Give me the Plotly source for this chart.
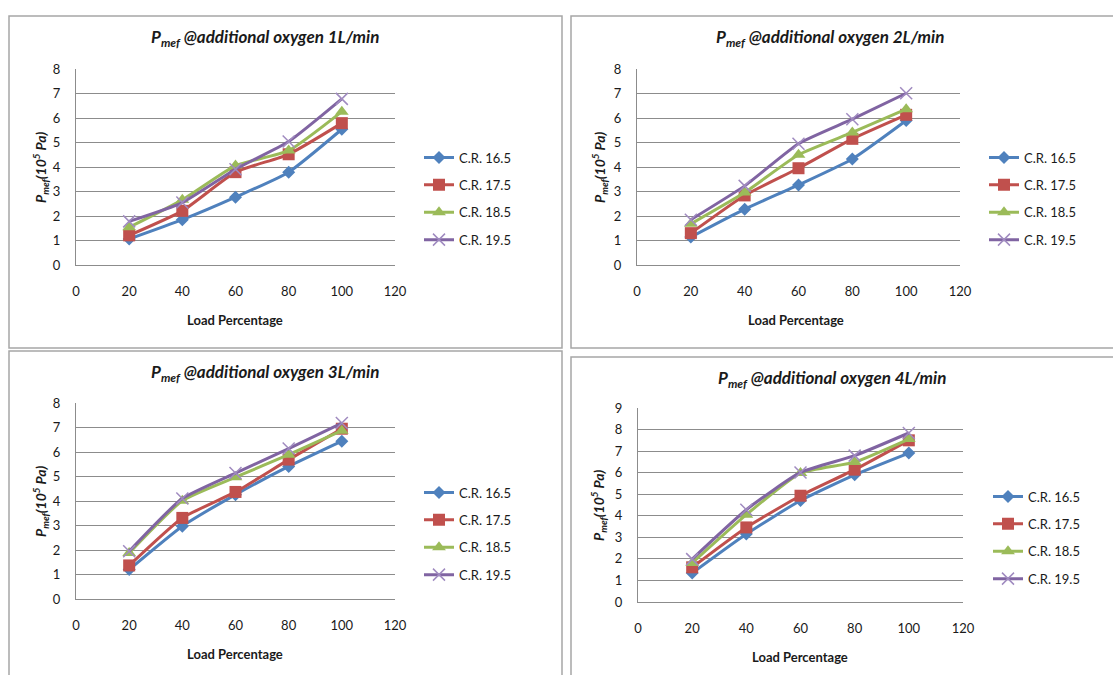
import plotly.graph_objects as go

W, H = 1113, 675

load_pct = [20, 40, 60, 80, 100]
series_names = ["C.R. 16.5", "C.R. 17.5", "C.R. 18.5", "C.R. 19.5"]
x_ticks = [0, 20, 40, 60, 80, 100, 120]

# Pmef values (10^5 Pa) for each oxygen flow panel
o1_cr165 = [1.06, 1.85, 2.77, 3.79, 5.54]
o1_cr175 = [1.21, 2.21, 3.79, 4.52, 5.79]
o1_cr185 = [1.54, 2.66, 4.06, 4.67, 6.26]
o1_cr195 = [1.78, 2.55, 3.91, 5.04, 6.78]

o2_cr165 = [1.14, 2.28, 3.27, 4.33, 5.90]
o2_cr175 = [1.30, 2.84, 3.95, 5.15, 6.13]
o2_cr185 = [1.68, 2.96, 4.50, 5.41, 6.36]
o2_cr195 = [1.85, 3.23, 4.95, 5.95, 7.01]

o3_cr165 = [1.20, 2.97, 4.26, 5.41, 6.44]
o3_cr175 = [1.37, 3.31, 4.37, 5.69, 6.95]
o3_cr185 = [1.88, 4.01, 4.97, 5.89, 6.87]
o3_cr195 = [1.95, 4.10, 5.14, 6.14, 7.18]

o4_cr165 = [1.34, 3.15, 4.71, 5.90, 6.91]
o4_cr175 = [1.61, 3.46, 4.93, 6.14, 7.50]
o4_cr185 = [1.81, 4.05, 5.98, 6.49, 7.56]
o4_cr195 = [1.99, 4.28, 6.01, 6.79, 7.84]

panel_titles = ["1L/min", "2L/min", "3L/min", "4L/min"]
panel_data = [
    [o1_cr165, o1_cr175, o1_cr185, o1_cr195],
    [o2_cr165, o2_cr175, o2_cr185, o2_cr195],
    [o3_cr165, o3_cr175, o3_cr185, o3_cr195],
    [o4_cr165, o4_cr175, o4_cr185, o4_cr195],
]
y_max = [8, 8, 8, 9]

colors = ["#4F81BD", "#C0504D", "#9BBB59", "#8064A2"]
symbols = ["diamond", "square", "triangle-up", "x-thin"]
msizes = [10, 12, 12, 12]

# layout geometry in pixels: (left, right, top, bottom) of plot areas
plot_px = [(76, 395, 69, 265), (637, 960, 69, 265), (76, 395, 403, 599), (638, 963, 408, 602)]
title_px = [(265, 38), (830, 38), (265, 373), (832, 379)]
ytitle_px = [40, 599, 40, 598]
xtitle_px = [(235, 320), (796, 320), (235, 654), (800, 657)]
legend_px = [(419, 199), (984, 199), (419, 534), (988, 538)]
box_px = [(9, 16, 562, 348), (571, 16, 1130, 348), (9, 351, 562, 695), (571, 357, 1130, 695)]

FONT = "Lato, 'Liberation Sans', sans-serif"
TXT = "#1a1a1a"
GRID = "#8c8c8c"

def px_x(v):
    return v / W

def px_y(v):
    return 1 - v / H

fig = go.Figure()
layout = dict(
    width=W, height=H, autosize=False,
    margin=dict(l=0, r=0, t=0, b=0, pad=0, autoexpand=False),
    paper_bgcolor="white", plot_bgcolor="white",
    font=dict(family=FONT, size=13, color=TXT),
    showlegend=True,
    shapes=[], annotations=[],
)

for p in range(4):
    ax = "" if p == 0 else str(p + 1)
    leg = "legend" if p == 0 else f"legend{p + 1}"
    for s in range(4):
        mk = dict(symbol=symbols[s], size=msizes[s], color=colors[s])
        if symbols[s] == "x-thin":
            mk["line"] = dict(color="#A08BC0", width=1.5)
        fig.add_trace(go.Scatter(
            x=load_pct, y=panel_data[p][s], name=series_names[s],
            mode="lines+markers",
            line=dict(color=colors[s], width=3, shape="spline", smoothing=0.5),
            marker=mk,
            xaxis="x" + ax, yaxis="y" + ax,
            legend=leg, legendgroup=f"g{p}_{s}",
        ))
    l, r, t, b = plot_px[p]
    layout["xaxis" + ax] = dict(
        domain=[px_x(l), px_x(r)], anchor="y" + ax,
        range=[0, 120], tickvals=x_ticks, showgrid=False, zeroline=False,
        showline=True, linecolor=GRID, linewidth=1.3, ticks="",
        ticklabelstandoff=14, tickfont=dict(size=13, color=TXT),
        fixedrange=True, automargin=False,
    )
    layout["yaxis" + ax] = dict(
        domain=[px_y(b), px_y(t)], anchor="x" + ax,
        range=[0, y_max[p]], dtick=1, showgrid=True, gridcolor=GRID, gridwidth=1.3,
        zeroline=False, showline=True, linecolor=GRID, linewidth=1.3, ticks="",
        ticklabelstandoff=12, tickfont=dict(size=13, color=TXT),
        fixedrange=True, automargin=False,
    )
    lx, ly = legend_px[p]
    layout[leg] = dict(
        x=px_x(lx), y=px_y(ly), xanchor="left", yanchor="middle",
        bgcolor="rgba(0,0,0,0)", font=dict(size=13, color=TXT),
        tracegroupgap=7.5, itemwidth=30,
    )
    tx, ty = title_px[p]
    layout["annotations"].append(dict(
        text=f"<b><i>P<sub>mef</sub> @additional oxygen {panel_titles[p]}</i></b>",
        x=px_x(tx), y=px_y(ty), xref="paper", yref="paper",
        showarrow=False, font=dict(size=17, color=TXT),
        xanchor="center", yanchor="middle",
    ))
    layout["annotations"].append(dict(
        text="<b><i>P<sub>mef</sub>(10<sup>5</sup> Pa)</i></b>",
        x=px_x(ytitle_px[p]), y=px_y((t + b) / 2), xref="paper", yref="paper",
        showarrow=False, textangle=-90, font=dict(size=14, color=TXT),
        xanchor="center", yanchor="middle",
    ))
    xx, xy = xtitle_px[p]
    layout["annotations"].append(dict(
        text="<b>Load Percentage</b>",
        x=px_x(xx), y=px_y(xy), xref="paper", yref="paper",
        showarrow=False, font=dict(size=13, color=TXT),
        xanchor="center", yanchor="middle",
    ))
    x0, y0, x1, y1 = box_px[p]
    layout["shapes"].append(dict(
        type="rect", xref="paper", yref="paper",
        x0=px_x(x0), x1=px_x(x1), y0=px_y(y1), y1=px_y(y0),
        line=dict(color="#a6a6a6", width=1.5), layer="below",
    ))

fig.update_layout(**layout)
fig.write_html(
    "out.html",
    config={"displayModeBar": False, "responsive": False},
    post_script="document.body.style.margin='0';document.body.style.overflow='hidden';",
)
